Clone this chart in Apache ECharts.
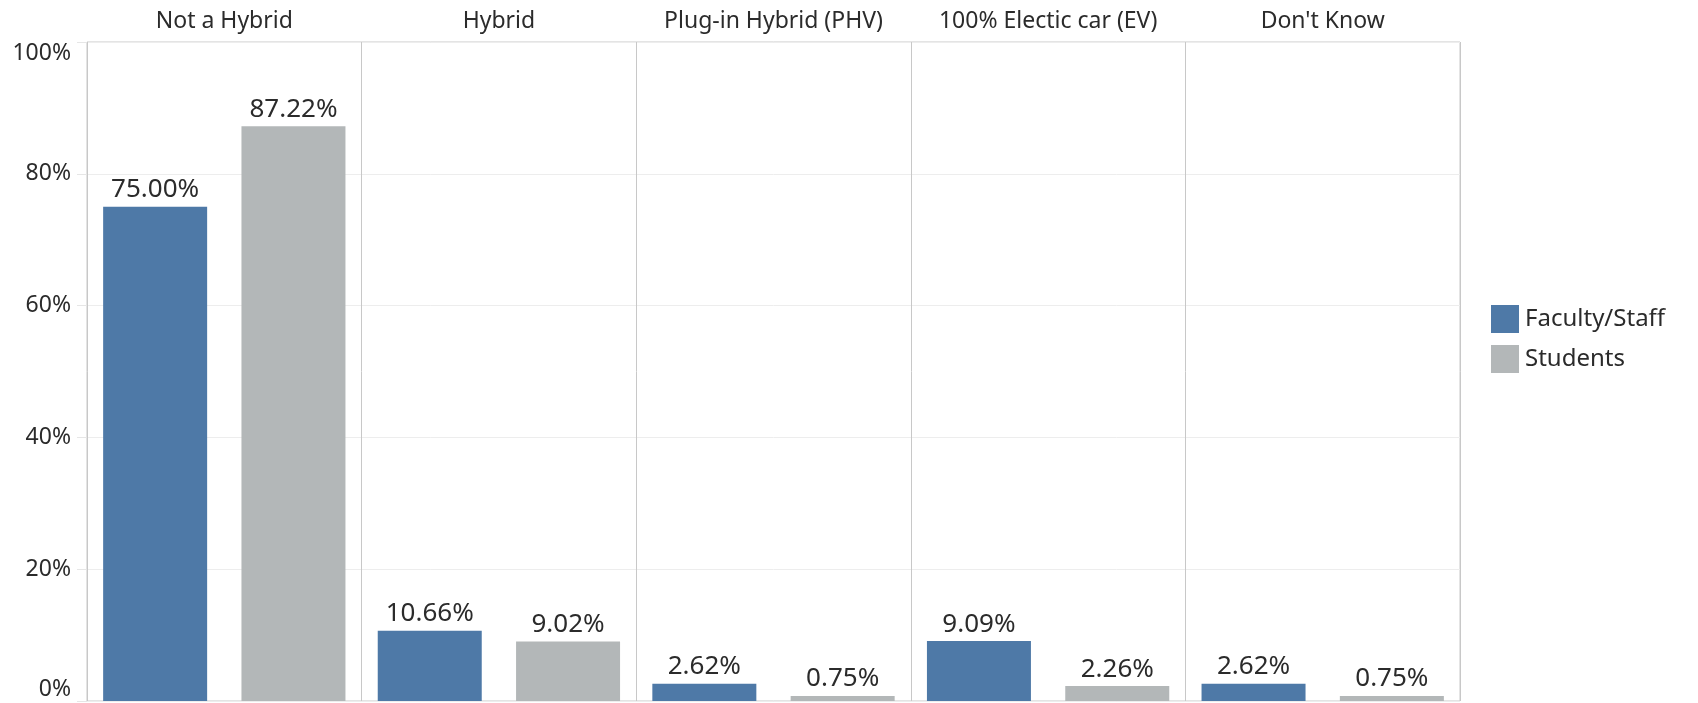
<!DOCTYPE html>
<html>
<head>
<meta charset="utf-8">
<script src="https://cdn.jsdelivr.net/npm/echarts@6/dist/echarts.min.js"></script>
<style>
  html, body { margin: 0; padding: 0; background: #fff; }
  #chart { width: 1698px; height: 703px; }
</style>
</head>
<body>
<div id="chart"></div>
<script>
// categories across the top
const categories = ['Not a Hybrid', 'Hybrid', 'Plug-in Hybrid (PHV)', '100% Electic car (EV)', "Don't Know"]
// percent values per group
const facultyStaff = [75.0, 10.66, 2.62, 9.09, 2.62]
const students = [87.22, 9.02, 0.75, 2.26, 0.75]
const yTicks = { min: 0, max: 100, interval: 20 }

const font = 'Noto Sans'
const textColor = '#2b2b2b'

const chart = echarts.init(document.getElementById('chart'))

const labelOpt = {
  show: true,
  position: 'top',
  distance: 4,
  fontFamily: font,
  fontSize: 26,
  color: textColor,
  formatter: (p) => p.value.toFixed(2) + '%',
}

chart.setOption({
  animation: false,
  grid: {
    left: 87,
    right: 238,
    top: 42,
    bottom: 2,
    show: true,
    borderColor: '#c8c8c8',
    borderWidth: 1,
  },
  legend: {
    orient: 'vertical',
    left: 1486,
    top: 300,
    itemWidth: 28,
    itemHeight: 28,
    itemGap: 12,
    icon: 'rect',
    textStyle: { fontFamily: font, fontSize: 24, color: textColor, padding: [0, 0, 0, 1] },
    data: ['Faculty/Staff', 'Students'],
  },
  xAxis: {
    type: 'category',
    position: 'top',
    data: categories,
    axisLine: { show: false },
    axisTick: { show: false },
    axisLabel: { fontFamily: font, fontSize: 23, color: textColor, margin: 9, interval: 0 },
    splitLine: { show: true, lineStyle: { color: '#c8c8c8', width: 1 } },
  },
  yAxis: {
    type: 'value',
    min: yTicks.min,
    max: yTicks.max,
    interval: yTicks.interval,
    axisLine: { show: false },
    axisTick: { show: true, length: 10, lineStyle: { color: '#e6e6e6' } },
    axisLabel: {
      fontFamily: font,
      fontSize: 23,
      color: textColor,
      margin: 16,
      formatter: '{value}%',
      verticalAlignMaxLabel: 'top',
      verticalAlignMinLabel: 'bottom',
    },
    splitLine: { show: true, lineStyle: { color: '#ededed', width: 1 } },
  },
  series: [
    {
      name: 'Faculty/Staff',
      type: 'bar',
      data: facultyStaff,
      barWidth: 104,
      barGap: '33%',
      itemStyle: { color: '#4e79a7' },
      label: labelOpt,
    },
    {
      name: 'Students',
      type: 'bar',
      data: students,
      barWidth: 104,
      itemStyle: { color: '#b3b7b8' },
      label: labelOpt,
    },
  ],
})
</script>
</body>
</html>
